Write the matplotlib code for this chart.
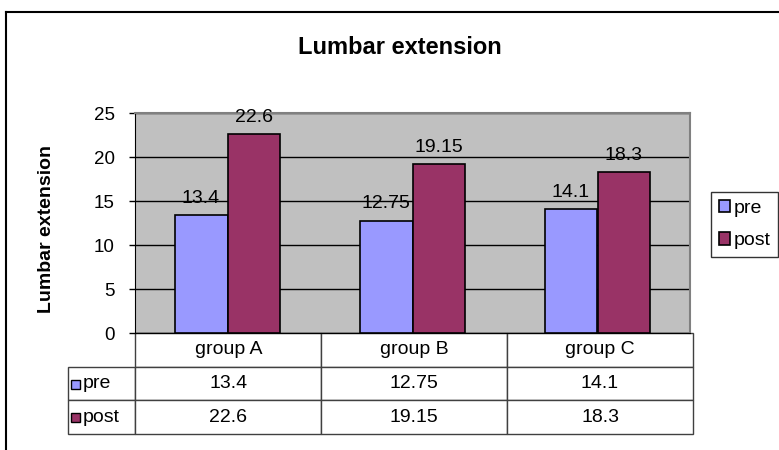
import numpy as np
import matplotlib.pyplot as plt
from matplotlib.lines import Line2D
from matplotlib.patches import Rectangle
from matplotlib.table import Table

groups = ['group A', 'group B', 'group C']
series = ['pre', 'post']
pre = [13.4, 12.75, 14.1]
post = [22.6, 19.15, 18.3]
colors = ['#9999FF', '#993366']

plt.rcParams['font.family'] = ['Liberation Sans', 'DejaVu Sans']

W, H = 779, 450
fig = plt.figure(figsize=(W / 100, H / 100), dpi=100)


def fx(px):
    return px / W


def fy(py):
    return 1 - py / H


# plot area in pixel units of the figure
ax = fig.add_axes([fx(135), fy(333), (690 - 135) / W, (333 - 113) / H])
ax.set_facecolor('#C0C0C0')

x = np.arange(len(groups))
w = 0.286
bars = []
for i, (vals, name) in enumerate(zip([pre, post], series)):
    b = ax.bar(x + (i - 0.5) * w, vals, w, color=colors[i], edgecolor='black',
               linewidth=1.2, label=name, zorder=3)
    ax.bar_label(b, labels=[f'{v:g}' for v in vals], padding=6, fontsize=14)
    bars.append(b)

ax.set_xlim(-0.5, len(groups) - 0.5)
ax.set_ylim(0, 25)
ax.set_yticks(range(0, 26, 5))
ax.set_xticks([])
ax.tick_params(axis='y', labelsize=13.5, length=4.5, width=1, pad=10)
ax.yaxis.grid(True, color='black', linewidth=1, zorder=1)
ax.set_axisbelow(True)
ax.spines['left'].set_color('black')
ax.spines['bottom'].set_color('black')
for s in ['top', 'right']:
    ax.spines[s].set_color('#808080')
    ax.spines[s].set_linewidth(1.5)


def axx(px):
    return (px - 135) / 555


def axy(py):
    return (333 - py) / 220


# data table under the plot
tbl = Table(ax, bbox=[axx(68), axy(434), axx(693) - axx(68), axy(333) - axy(434)])
col_w = [67, 185, 185, 185]
row_h = 1.0
for c, name in enumerate(groups):
    tbl.add_cell(0, c + 1, col_w[c + 1], row_h, text=name, loc='center')
for r, (name, vals) in enumerate(zip(series, [pre, post])):
    lab = tbl.add_cell(r + 1, 0, col_w[0], row_h, text=name, loc='left')
    lab.PAD = 0.22
    for c, v in enumerate(vals):
        tbl.add_cell(r + 1, c + 1, col_w[c + 1], row_h, text=f'{v:g}', loc='center')
tbl.auto_set_font_size(False)
tbl.set_fontsize(14)
for cell in tbl.get_celld().values():
    cell.set_edgecolor('#404040')
    cell.set_linewidth(1)
ax.add_table(tbl)

for i, py in enumerate([384, 417]):
    ax.add_patch(Rectangle((axx(71), axy(py + 4.5)), axx(80) - axx(71),
                           axy(py - 4.5) - axy(py + 4.5), transform=ax.transAxes,
                           facecolor=colors[i], edgecolor='black', linewidth=1,
                           clip_on=False, zorder=5))

leg = fig.legend(handles=bars, labels=series, loc='upper left',
                 bbox_to_anchor=(fx(711), fy(192)), fontsize=14, frameon=True,
                 fancybox=False, edgecolor='black', handlelength=0.6,
                 handleheight=0.6, handletextpad=0.15, labelspacing=0.8,
                 borderpad=0.4, borderaxespad=0)
leg.get_frame().set_linewidth(1)

fig.text(fx(400), fy(47), 'Lumbar extension', ha='center', va='center',
         fontsize=17, fontweight='bold')
fig.text(fx(47), fy(229), 'Lumbar extension', ha='center', va='center',
         rotation=90, fontsize=14, fontweight='bold')

# chart frame
fig.add_artist(Line2D([fx(6), 1], [fy(12), fy(12)], color='black', linewidth=1.5))
fig.add_artist(Line2D([fx(6), fx(6)], [fy(12), 0], color='black', linewidth=1.5))

fig.savefig('out.png', dpi=100)
